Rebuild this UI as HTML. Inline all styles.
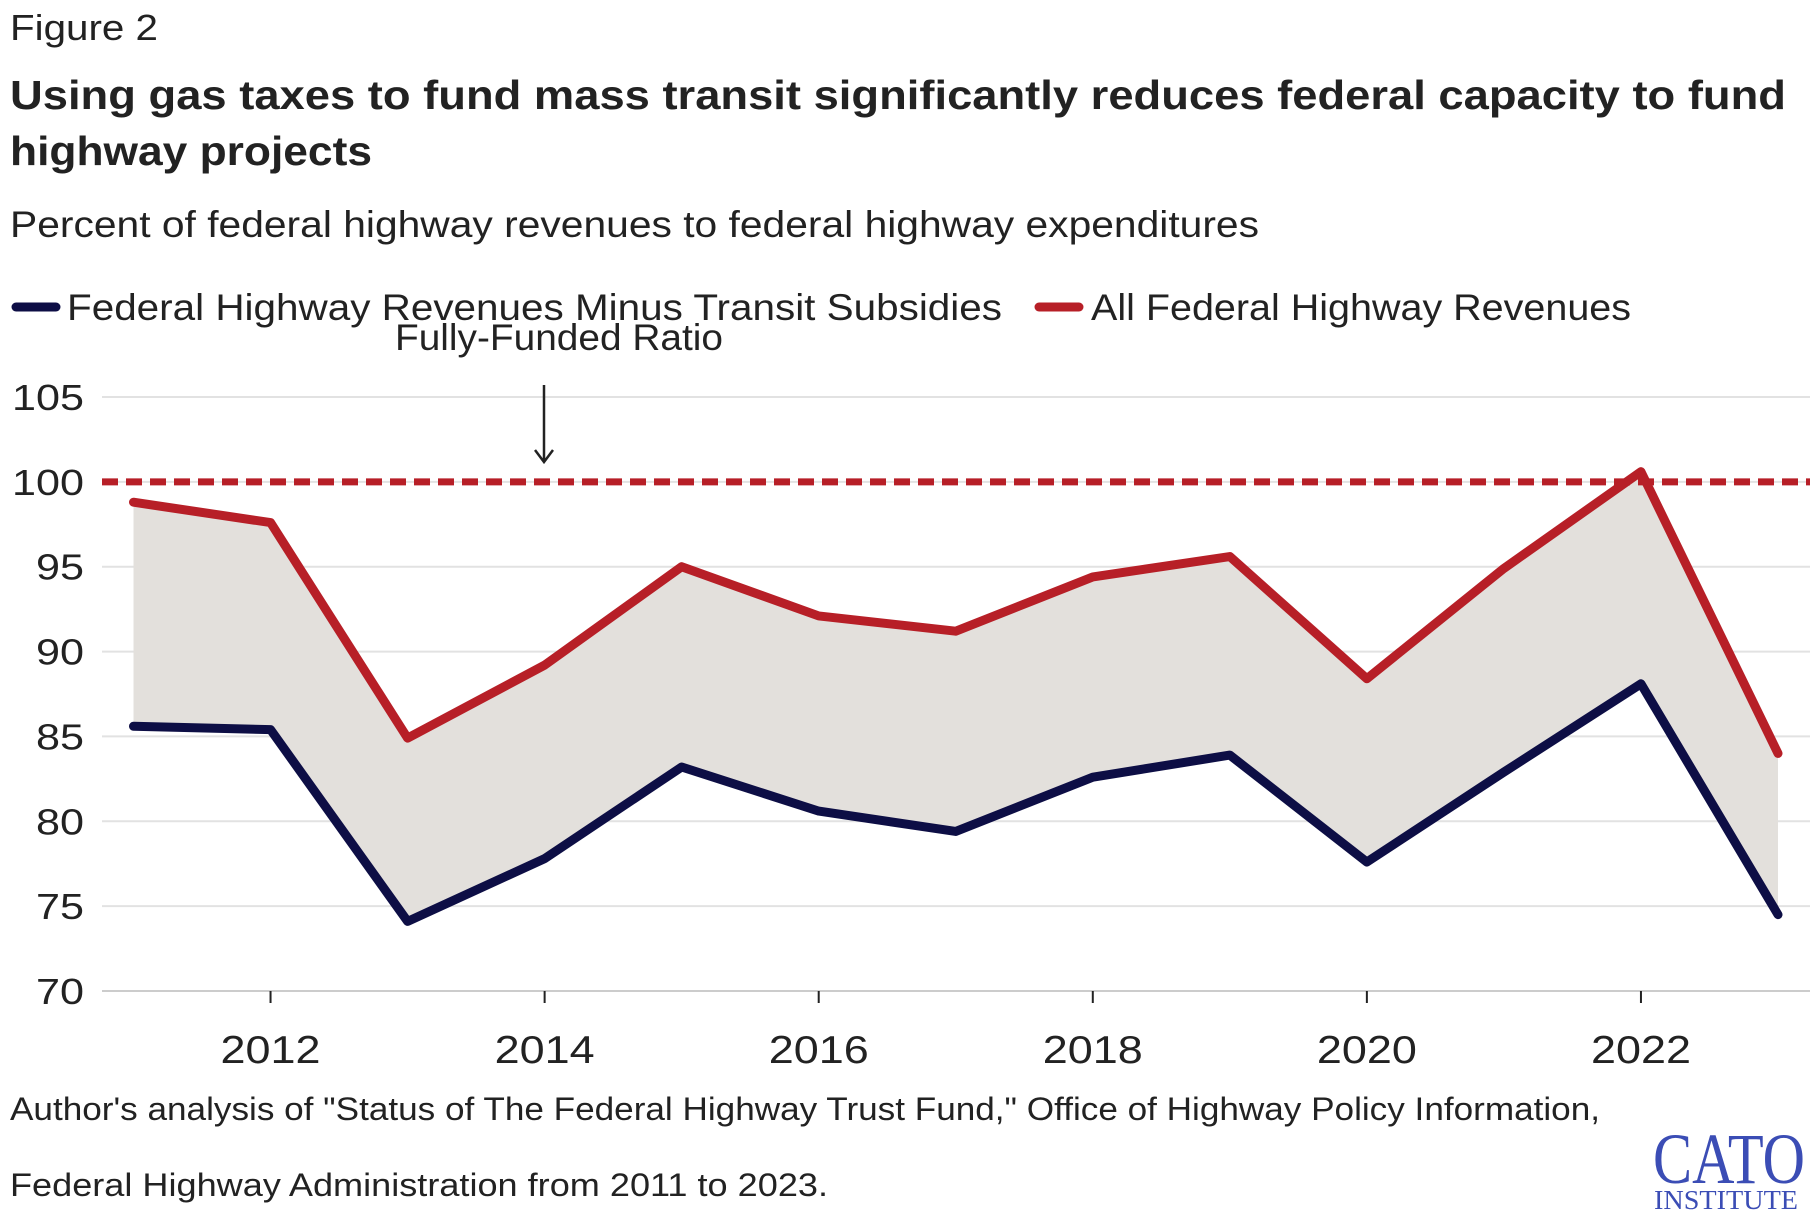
<!DOCTYPE html>
<html><head><meta charset="utf-8"><style>
body{margin:0;background:#fff;width:1820px;height:1220px;overflow:hidden;font-family:"Liberation Sans",sans-serif;color:#222}
svg{position:absolute;left:0;top:0}
</style></head><body>
<svg width="1820" height="1220">
<text x="10" y="40" font-size="36" fill="#222" textLength="148" lengthAdjust="spacingAndGlyphs">Figure 2</text>
<text x="10" y="109" font-size="41" font-weight="bold" fill="#222" textLength="1776" lengthAdjust="spacingAndGlyphs">Using gas taxes to fund mass transit significantly reduces federal capacity to fund</text>
<text x="10" y="165" font-size="41" font-weight="bold" fill="#222" textLength="362" lengthAdjust="spacingAndGlyphs">highway projects</text>
<text x="10" y="237" font-size="37" fill="#222" textLength="1249" lengthAdjust="spacingAndGlyphs">Percent of federal highway revenues to federal highway expenditures</text>
<g>
<line x1="16" y1="307" x2="56" y2="307" stroke="#0d0e45" stroke-width="9" stroke-linecap="round"/>
<text x="67" y="320" font-size="37" fill="#222" textLength="935" lengthAdjust="spacingAndGlyphs">Federal Highway Revenues Minus Transit Subsidies</text>
<line x1="1039" y1="307" x2="1079" y2="307" stroke="#b71f27" stroke-width="9" stroke-linecap="round"/>
<text x="1091" y="320" font-size="37" fill="#222" textLength="540" lengthAdjust="spacingAndGlyphs">All Federal Highway Revenues</text>
</g>
<g id="plot"></g>
<text x="10" y="1120" font-size="32" fill="#222" textLength="1590" lengthAdjust="spacingAndGlyphs">Author's analysis of "Status of The Federal Highway Trust Fund," Office of Highway Policy Information,</text>
<text x="10" y="1196" font-size="32" fill="#222" textLength="818" lengthAdjust="spacingAndGlyphs">Federal Highway Administration from 2011 to 2023.</text>
<g fill="#3b4db5" font-family="Liberation Serif,serif">
<text x="1729" y="1183" font-size="72" text-anchor="middle" textLength="152" lengthAdjust="spacingAndGlyphs">CATO</text>
<text x="1726" y="1209" font-size="27" text-anchor="middle" textLength="144" lengthAdjust="spacingAndGlyphs">INSTITUTE</text>
</g>
</svg>
<script>
const years=[2011,2012,2013,2014,2015,2016,2017,2018,2019,2020,2021,2022,2023];
const allRev=[98.8,97.6,84.9,89.2,95.0,92.1,91.2,94.4,95.6,88.4,94.9,100.6,84.0];
const minusTransit=[85.6,85.4,74.1,77.8,83.2,80.6,79.4,82.6,83.9,77.6,82.9,88.1,74.5];
const yTicks=[70,75,80,85,90,95,100,105];
const xTicks=[2012,2014,2016,2018,2020,2022];
const fullyFunded=100;
const NS="http://www.w3.org/2000/svg";
const X=y=>133.5+(y-2011)*(1778-133.5)/12;
const Y=v=>991-(v-70)*(991-397)/35;
const g=document.getElementById('plot');
function mk(t,a){const e=document.createElementNS(NS,t);for(const k in a)e.setAttribute(k,a[k]);g.appendChild(e);return e;}
yTicks.forEach(v=>{
 const l=mk('line',{x1:102,x2:1810,y1:Y(v),y2:Y(v),stroke:v===70?'#ccc':'#e2e2e2','stroke-width':2});
 
 
 const t=mk('text',{x:84,y:Y(v)+13,'font-size':36,'text-anchor':'end',fill:'#222',textLength:String(v).length>2?72:48,lengthAdjust:'spacingAndGlyphs'});
 t.textContent=v;
 
 
});
xTicks.forEach(yr=>{
 const l=mk('line',{x1:X(yr),x2:X(yr),y1:991,y2:1003,stroke:'#222','stroke-width':2});
 
 
 const t=mk('text',{x:X(yr),y:1063,'font-size':39,'text-anchor':'middle',fill:'#222',textLength:100,lengthAdjust:'spacingAndGlyphs'});
 t.textContent=yr;
 
 
});
let d='';years.forEach((y,i)=>d+=(i?'L':'M')+X(y)+','+Y(allRev[i]));
for(let i=years.length-1;i>=0;i--)d+='L'+X(years[i])+','+Y(minusTransit[i]);
const area=mk('path',{d:d+'Z',fill:'#e3e0dc'});


const ref=mk('line',{x1:102,x2:1810,y1:Y(fullyFunded),y2:Y(fullyFunded),stroke:'#b71f27','stroke-width':7,'stroke-dasharray':'16 8'});


function line(vals,col,name){
 const p=mk('path',{d:years.map((y,i)=>(i?'L':'M')+X(y)+','+Y(vals[i])).join(''),fill:'none',stroke:col,'stroke-width':9,'stroke-linejoin':'round','stroke-linecap':'round'});
 
 
}
line(minusTransit,'#0d0e45','series-minus-transit');
line(allRev,'#b71f27','series-all-revenues');
const at=mk('text',{x:395,y:350,'font-size':37,fill:'#222',textLength:328,lengthAdjust:'spacingAndGlyphs'});
at.textContent='Fully-Funded Ratio';


const ar=mk('path',{d:'M544,385 L544,462 M535,450 L544,462 L553,450',stroke:'#222','stroke-width':2.5,fill:'none'});


</script>
</body></html>
